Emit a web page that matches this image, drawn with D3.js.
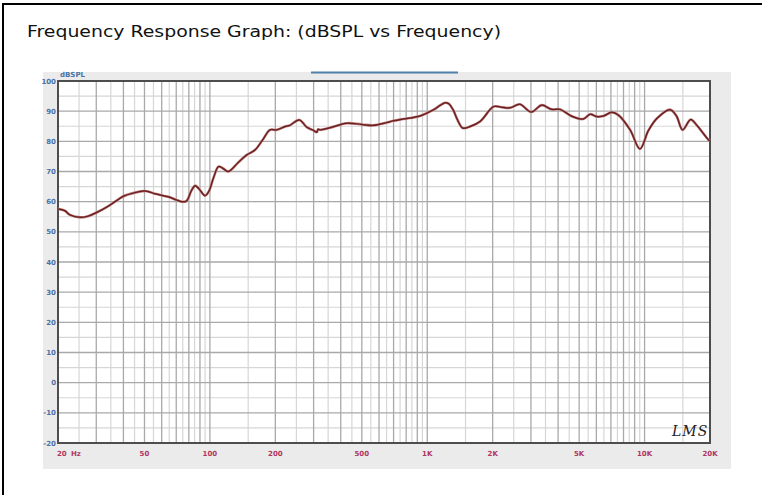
<!DOCTYPE html>
<html>
    <head>
        <title>Frequency Response Graph</title>
        <script src="https://d3js.org/d3.v7.min.js"></script>
        <style>
            body {
                margin: 0;
                background-color: white;
            }
            #myCanvas {
                display: block;
            }
            .ytick {
                font-family: "DejaVu Sans", sans-serif;
                font-weight: bold;
                font-size: 7px;
                fill: #4a72a8;
            }
            .xtick {
                font-family: "DejaVu Sans", sans-serif;
                font-weight: bold;
                font-size: 7px;
                fill: #b03562;
            }
        </style>
    </head>

    <body>
        <svg id="myCanvas" width="762" height="495"></svg>

        <script>
            // frequency (Hz) and level (dB SPL)
            var freqs = [20, 21.5, 22.7, 25.3, 27.5, 30.1, 33.5, 36.6, 40, 45.2, 49.4, 52, 55.9, 64.3, 70, 74, 78,
                         82, 85.4, 89, 95, 99, 104, 109.5, 115, 121.5, 135, 147.8, 161, 175, 189, 203, 222, 233,
                         258, 279, 300, 310, 315, 321, 357, 426, 500, 564, 650, 698, 776, 926, 1066, 1150, 1208,
                         1260, 1316, 1380, 1456, 1574, 1752, 2016, 2166, 2400, 2666, 3012, 3360, 3734, 4080, 4600,
                         5220, 5620, 6020, 6460, 7060, 7580, 8580, 9520, 10420, 11400, 13100, 14020, 14960, 16300,
                         17360, 19680, 20000];
            var levels = [57.6, 57.0, 55.6, 54.8, 55.2, 56.4, 58.2, 60.0, 61.8, 63.0, 63.5, 63.4, 62.6, 61.6, 60.6, 60.0, 60.2,
                          63.5, 65.3, 64.3, 62.0, 63.5, 68.0, 71.6, 71.0, 70.0, 73.0, 75.5, 77.1, 80.5, 83.8, 83.8, 84.9, 85.3,
                          87.1, 84.7, 83.6, 83.0, 84.0, 83.8, 84.5, 86.0, 85.6, 85.3, 86.2, 86.8, 87.4, 88.4, 90.4, 92.0, 92.8,
                          92.4, 90.4, 87.0, 84.4, 84.9, 86.6, 91.5, 91.4, 91.1, 92.3, 89.7, 92.0, 90.6, 90.6, 88.4,
                          87.4, 89.0, 88.2, 88.4, 89.6, 88.7, 83.8, 77.5, 83.6, 87.6, 90.5, 88.4, 83.8, 87.2,
                          85.4, 80.5, 80.2];

            var xTickValues = [20, 50, 100, 200, 500, 1000, 2000, 5000, 10000, 20000];
            var xTickLabels = ["20", "50", "100", "200", "500", "1K", "2K", "5K", "10K", "20K"];
            var yTickValues = [100, 90, 80, 70, 60, 50, 40, 30, 20, 10, 0, -10, -20];
            var titleText = "Frequency Response Graph: (dBSPL vs Frequency)";

            var svg = d3.select("#myCanvas");
            var pLeft = 58, pRight = 710, pTop = 81, pBottom = 443;

            var x = d3.scaleLog().domain([20, 20000]).range([pLeft, pRight]);
            var y = d3.scaleLinear().domain([-20, 100]).range([pBottom, pTop]);

            // page frame (only top and left edges show)
            svg.append("line").attr("x1", 2).attr("x2", 762).attr("y1", 4).attr("y2", 4)
                .attr("stroke", "#000").attr("stroke-width", 2);
            svg.append("line").attr("x1", 3).attr("x2", 3).attr("y1", 3).attr("y2", 495)
                .attr("stroke", "#000").attr("stroke-width", 2);

            svg.append("text")
                .attr("x", 27).attr("y", 37)
                .attr("font-family", "Tahoma, 'DejaVu Sans', sans-serif")
                .attr("font-size", 16.5)
                .attr("textLength", 474)
                .attr("lengthAdjust", "spacingAndGlyphs")
                .attr("fill", "#111")
                .text(titleText);

            // grey panel behind the plot
            svg.append("rect").attr("x", 43).attr("y", 72).attr("width", 688).attr("height", 397)
                .attr("fill", "#ebebeb");
            svg.append("line").attr("x1", 311).attr("x2", 458).attr("y1", 72.5).attr("y2", 72.5)
                .attr("stroke", "#4f80ab").attr("stroke-width", 2);

            svg.append("rect").attr("x", pLeft).attr("y", pTop)
                .attr("width", pRight - pLeft).attr("height", pBottom - pTop)
                .attr("fill", "white");

            // grid: major lines at 1..9 x decade, minor at the half steps
            var majorF = [], minorF = [];
            [10, 100, 1000, 10000].forEach(function(dec) {
                for (var k = 1; k <= 9.5; k += 0.5) {
                    var f = dec * k;
                    if (f <= 20 || f >= 20000) continue;
                    if (k % 1 == 0) majorF.push(f); else minorF.push(f);
                }
            });
            var minorDb = d3.range(-15, 100, 10);
            var majorDb = d3.range(-10, 100, 10);

            var grid = svg.append("g");
            grid.selectAll(".vminor").data(minorF).join("line")
                .attr("class", "vminor")
                .attr("x1", d => x(d)).attr("x2", d => x(d))
                .attr("y1", pTop).attr("y2", pBottom)
                .attr("stroke", "#d6d6d6").attr("stroke-width", 1.2);
            grid.selectAll(".hminor").data(minorDb).join("line")
                .attr("class", "hminor")
                .attr("x1", pLeft).attr("x2", pRight)
                .attr("y1", d => y(d)).attr("y2", d => y(d))
                .attr("stroke", "#d6d6d6").attr("stroke-width", 1.2);
            grid.selectAll(".vmajor").data(majorF).join("line")
                .attr("class", "vmajor")
                .attr("x1", d => x(d)).attr("x2", d => x(d))
                .attr("y1", pTop).attr("y2", pBottom)
                .attr("stroke", "#a9a9a9").attr("stroke-width", 1.3);
            grid.selectAll(".hmajor").data(majorDb).join("line")
                .attr("class", "hmajor")
                .attr("x1", pLeft).attr("x2", pRight)
                .attr("y1", d => y(d)).attr("y2", d => y(d))
                .attr("stroke", "#a9a9a9").attr("stroke-width", 1.3);

            svg.append("rect").attr("x", pLeft).attr("y", pTop)
                .attr("width", pRight - pLeft).attr("height", pBottom - pTop)
                .attr("fill", "none").attr("stroke", "#4d4d4d").attr("stroke-width", 2);

            // tick labels
            svg.selectAll(".ytick").data(yTickValues).join("text")
                .attr("class", "ytick")
                .attr("x", 56).attr("y", d => y(d) + 2.5)
                .attr("text-anchor", "end")
                .text(d => d);
            svg.append("text").attr("class", "ytick")
                .attr("x", 60).attr("y", 77)
                .text("dBSPL");

            svg.selectAll(".xtick").data(xTickValues).join("text")
                .attr("class", "xtick")
                .attr("x", (d, i) => i == 0 ? 57 : x(d))
                .attr("y", 456)
                .attr("text-anchor", (d, i) => i == 0 ? "start" : "middle")
                .text((d, i) => xTickLabels[i]);
            svg.append("text").attr("class", "xtick")
                .attr("x", 71).attr("y", 456)
                .text("Hz");

            // the response curve
            var pts = freqs.map((f, i) => [f, levels[i]]);
            var line = d3.line()
                .x(d => x(d[0]))
                .y(d => y(d[1]))
                .curve(d3.curveCatmullRom.alpha(0.5));
            svg.append("path")
                .datum(pts)
                .attr("fill", "none")
                .attr("stroke", "#c28a8a")
                .attr("stroke-width", 2.6)
                .attr("d", line);
            svg.append("path")
                .datum(pts)
                .attr("fill", "none")
                .attr("stroke", "#6e2020")
                .attr("stroke-width", 1.5)
                .attr("d", line);

            svg.append("text")
                .attr("x", 672).attr("y", 436)
                .attr("font-family", "'DejaVu Serif', serif")
                .attr("font-style", "italic")
                .attr("font-size", 14)
                .attr("letter-spacing", 1)
                .attr("fill", "#222")
                .text("LMS");
        </script>
    </body>
</html>
